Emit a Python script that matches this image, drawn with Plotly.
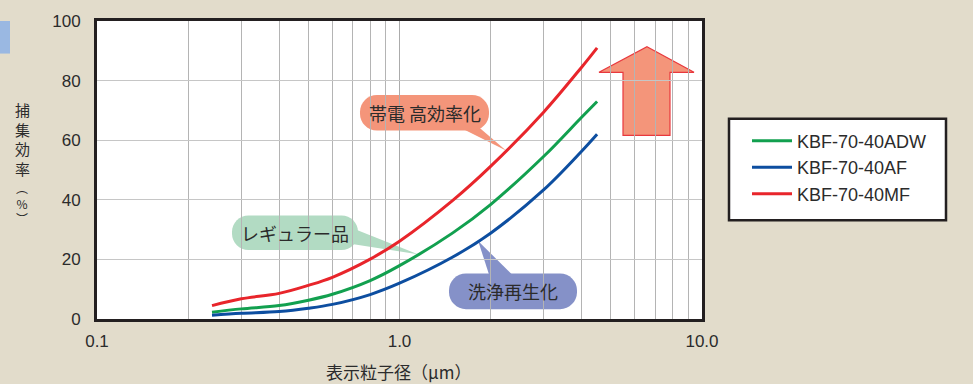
import numpy as np
import plotly.graph_objects as go

# Particle diameter (µm) and collection efficiency (%) per filter model
diam = [0.24, 0.3, 0.4, 0.5, 0.6, 0.8, 1.0, 1.5, 2.0, 3.0, 4.0, 4.5]
eff_adw = [2.3, 3.4, 4.5, 6.3, 8.3, 12.9, 17.9, 28.9, 38.4, 54.6, 67.7, 73.0]
eff_af = [1.3, 1.9, 2.5, 3.6, 4.9, 8.2, 12.0, 20.8, 28.8, 43.4, 56.3, 62.0]
eff_mf = [4.5, 6.8, 8.6, 11.3, 14.0, 20.1, 26.1, 39.8, 51.2, 69.5, 84.5, 91.0]

series = [
    ("KBF-70-40ADW", eff_adw, "#12a04f"),
    ("KBF-70-40AF", eff_af, "#0d4ea0"),
    ("KBF-70-40MF", eff_mf, "#e8252b"),
]

x_ticks = [0.1, 1.0, 10.0]
x_tick_text = ["0.1", "1.0", "10.0"]
x_minor = [0.2, 0.3, 0.4, 0.5, 0.6, 0.7, 0.8, 0.9, 2, 3, 4, 5, 6, 7, 8, 9]
y_ticks = [0, 20, 40, 60, 80, 100]

BG = "#e2dccb"
INK = "#2b2b2b"
FONT = "Liberation Sans, Arial, sans-serif"
JP = "Noto Sans CJK JP, sans-serif"

# figure geometry (pixels)
FW, FH = 973, 384
L, R, T, B = 97, 271, 17, 65
PW, PH = FW - L - R, FH - T - B


def paper(px, py):
    return (px - L) / PW, (FH - B - py) / PH


def data_px(xv, yv):
    # position of a data point inside the plot area, in pixels
    fx = (np.log10(xv) + 1) / 2
    fy = yv / 100
    return L + fx * PW, FH - B - fy * PH


def path_from(points, cmds):
    out = []
    i = 0
    for c in cmds:
        if c in ("M", "L"):
            x, y = paper(*points[i]); i += 1
            out.append(f"{c}{x:.5f},{y:.5f}")
        elif c == "C":
            seg = []
            for _ in range(3):
                x, y = paper(*points[i]); i += 1
                seg.append(f"{x:.5f},{y:.5f}")
            out.append("C" + " ".join(seg))
        elif c == "Z":
            out.append("Z")
    return " ".join(out)


def pill(x0, y0, x1, y1):
    r = (y1 - y0) / 2 - 1
    k = 0.5523 * r
    pts = [
        (x0 + r, y0), (x1 - r, y0),
        (x1 - r + k, y0), (x1, y0 + r - k), (x1, y0 + r),
        (x1, y1 - r),
        (x1, y1 - r + k), (x1 - r + k, y1), (x1 - r, y1),
        (x0 + r, y1),
        (x0 + r - k, y1), (x0, y1 - r + k), (x0, y1 - r),
        (x0, y0 + r),
        (x0, y0 + r - k), (x0 + r - k, y0), (x0 + r, y0),
    ]
    cmds = ["M", "L", "C", "L", "C", "L", "C", "L", "C", "Z"]
    return path_from(pts, cmds)


def polygon(pts):
    cmds = ["M"] + ["L"] * (len(pts) - 1) + ["Z"]
    return path_from(pts, cmds)


fig = go.Figure()
for name, vals, color in series:
    fig.add_trace(go.Scatter(
        x=diam, y=vals, name=name, mode="lines",
        line=dict(color=color, width=3, shape="spline", smoothing=1.0),
    ))

shapes = []


def curve_tip(xv, vals):
    yv = float(np.interp(np.log10(xv), np.log10(diam), vals))
    return data_px(xv, yv)


# callouts: (box, pointer base points, pointer tip on a curve, fill, label)
callouts = [
    ((360, 92, 489, 128), [(458, 124), (478, 124)], curve_tip(2.25, eff_mf), "#f4957a", "帯電 高効率化"),
    ((232, 214, 358, 249), [(350, 226), (352, 243)], curve_tip(1.15, eff_adw), "#b2dbc3", "レギュラー品"),
    ((449, 273, 577, 309), [(490, 277), (515, 277)], curve_tip(1.82, eff_af), "#8591c8", "洗浄再生化"),
]

annotations = []
for (bx0, by0, bx1, by1), base, tip, fill, label in callouts:
    shapes.append(dict(type="path", xref="paper", yref="paper", layer="between",
                       path=polygon([base[0], tip, base[1]]),
                       fillcolor=fill, line=dict(width=0)))
    shapes.append(dict(type="path", xref="paper", yref="paper", layer="between",
                       path=pill(bx0, by0, bx1, by1),
                       fillcolor=fill, line=dict(width=0)))
    cx, cy = paper((bx0 + bx1) / 2, (by0 + by1) / 2)
    annotations.append(dict(xref="paper", yref="paper", x=cx, y=cy, text=label,
                            showarrow=False, font=dict(family=JP, size=18, color=INK),
                            xanchor="center", yanchor="middle"))

# upward arrow indicating higher efficiency
arrow = [(647, 43), (694, 69), (670, 69), (670, 133), (623, 133), (623, 69), (599, 69)]
shapes.append(dict(type="path", xref="paper", yref="paper", layer="between",
                   path=polygon(arrow), fillcolor="#f4957a",
                   line=dict(color="#e8383d", width=1.2)))

# small blue marker at the top-left corner
bx0, by0 = paper(0, 17)
bx1, by1 = paper(10, 50)
shapes.append(dict(type="rect", xref="paper", yref="paper",
                   x0=bx0, x1=bx1, y0=by1, y1=by0,
                   fillcolor="#9ab8e2", line=dict(width=0)))

# legend frame
fx0, fy0 = paper(729, 116)
fx1, fy1 = paper(946, 219)
shapes.append(dict(type="rect", xref="paper", yref="paper",
                   x0=fx0, x1=fx1, y0=fy1, y1=fy0,
                   fillcolor="white", line=dict(color="#231f20", width=2.5)))

# axis titles
tx, ty = paper(398, 372)
annotations.append(dict(xref="paper", yref="paper", x=tx, y=ty, text="表示粒子径（μm）",
                        showarrow=False, font=dict(family=JP, size=17, color=INK),
                        xanchor="center", yanchor="middle"))
vx, vy = paper(22, 137)
annotations.append(dict(xref="paper", yref="paper", x=vx, y=vy,
                        text="捕<br>集<br>効<br>率",
                        showarrow=False, font=dict(family=JP, size=15, color=INK),
                        xanchor="center", yanchor="middle"))
vx2, vy2 = paper(22, 201)
annotations.append(dict(xref="paper", yref="paper", x=vx2, y=vy2,
                        text="︵<br>%<br>︶",
                        showarrow=False, font=dict(family=JP, size=12, color=INK),
                        xanchor="center", yanchor="middle"))

lx, ly = paper(747, 120)

fig.update_layout(
    width=FW, height=FH,
    margin=dict(l=L, r=R, t=T, b=B, pad=0),
    paper_bgcolor=BG, plot_bgcolor="white",
    font=dict(family=FONT, color=INK),
    showlegend=True,
    legend=dict(x=lx, y=ly, xanchor="left", yanchor="top",
                bgcolor="rgba(0,0,0,0)", borderwidth=0,
                font=dict(family=FONT, size=18, color=INK),
                tracegroupgap=0, itemwidth=40),
    shapes=shapes,
    annotations=annotations,
)

fig.update_xaxes(
    type="log", range=[-1, 1],
    tickvals=x_ticks, ticktext=x_tick_text,
    tickfont=dict(family=FONT, size=17, color=INK),
    ticks="", ticklabelstandoff=5,
    showgrid=True, gridcolor="#ababab", gridwidth=1.3,
    minor=dict(tickvals=x_minor, showgrid=True, gridcolor="#b4b4b4", gridwidth=1.3, ticks=""),
    showline=True, linecolor="#231f20", linewidth=3, mirror=True,
    zeroline=False,
)
fig.update_yaxes(
    range=[0, 100], tickvals=y_ticks,
    tickfont=dict(family=FONT, size=17, color=INK),
    ticks="", ticklabelstandoff=10,
    showgrid=True, gridcolor="#c6c6c6", gridwidth=1.3,
    showline=True, linecolor="#231f20", linewidth=3, mirror=True,
    zeroline=False,
)

fig.write_html("out.html")
